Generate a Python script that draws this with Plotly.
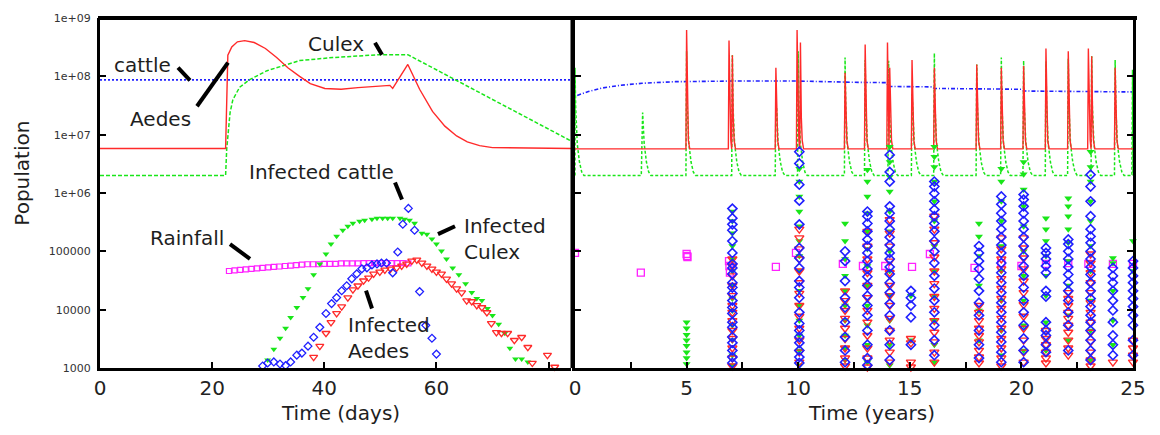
import plotly.graph_objects as go

# ---------------- LEFT PANEL DATA (time in days) ----------------
cattle_days = [0, 84]
cattle_pop = [8.7e7, 8.7e7]

aedes_days = [0, 22.4, 22.8, 23.5, 24.5, 25.8, 27.5, 29.5, 31.5, 33.5, 35.6, 37.5, 40.1, 43.0,
              46.0, 49.0, 51.7, 52.2, 54.9, 57.0, 59.3, 61.5, 63.6, 65.5, 67.7, 70.0, 84]
aedes_pop = [5.8e6, 5.8e6, 2.3e8, 3.2e8, 3.9e8, 4.1e8, 3.8e8, 3.0e8, 2.1e8, 1.4e8, 1.0e8, 7.5e7, 6.2e7, 6.0e7,
             6.4e7, 6.8e7, 7.0e7, 6.2e7, 1.6e8, 6.0e7, 2.5e7, 1.4e7, 9.5e6, 7.5e6, 6.5e6, 6.0e6, 5.8e6]

culex_days = [0, 22.4, 22.6, 23.2, 23.7, 24.9, 26.7, 29.8, 35.6, 41.5, 49.9, 54.9, 84]
culex_pop = [2.0e6, 2.0e6, 5.7e6, 2.4e7, 4.0e7, 6.5e7, 8.8e7, 1.25e8, 1.86e8, 2.1e8, 2.35e8, 2.35e8, 7.8e6]

rain_days = list(range(23, 56))
rain_val = [4.6e4, 4.7e4, 4.8e4, 4.9e4, 5.0e4, 5.1e4, 5.2e4, 5.3e4, 5.4e4, 5.5e4, 5.6e4, 5.7e4, 5.8e4,
            5.9e4, 6.0e4, 6.0e4, 6.0e4, 6.1e4, 6.1e4, 6.1e4, 6.2e4, 6.2e4, 6.2e4, 6.2e4, 6.3e4, 6.3e4,
            6.3e4, 6.3e4, 6.3e4, 6.3e4, 6.3e4, 6.3e4, 6.2e4]

inf_cattle_days = [29.0, 29.9, 31.0, 32.1, 33.1, 34.0, 35.1, 36.0, 37.1, 38.1, 39.2, 40.3, 41.3, 42.2,
                   43.1, 44.0, 44.9, 45.8, 46.7, 47.6, 48.5, 49.4, 50.2, 51.1, 52.2, 53.1, 54.0, 55.0,
                   56.1, 57.0, 58.1, 59.2, 60.0]
inf_cattle_pop = [1080, 1220, 1270, 1170, 1100, 1270, 1660, 1800, 2370, 3370, 4980, 8610, 12700, 16100,
                  21100, 25700, 33800, 41100, 50100, 52000, 58500, 60800, 63200, 63200, 42800, 97500,
                  291000, 545000, 230000, 20400, 5380, 3240, 1730]

inf_culex_days = [29.9, 31.0, 32.1, 33.1, 34.0, 35.1, 36.2, 37.1, 38.1, 39.2, 40.3, 41.2, 42.2, 43.3,
                  44.2, 45.1, 46.3, 47.2, 48.5, 49.4, 50.4, 51.3, 52.2, 53.5, 54.3, 55.2, 56.1, 57.4,
                  58.3, 59.2, 60.0, 60.9, 61.8, 62.9, 64.0, 65.2, 66.3, 67.2, 68.1, 69.1, 70.0, 71.1,
                  72.2, 73.1, 74.1, 75.2, 76.3]
inf_culex_pop = [1370, 2100, 3240, 4790, 7360, 10900, 16100, 22900, 39600, 60800, 90000, 133000,
                 182000, 230000, 269000, 303000, 327000, 340000, 354000, 368000, 368000, 368000,
                 368000, 368000, 354000, 340000, 303000, 205000, 197000, 162000, 133000, 101000,
                 74000, 52000, 39600, 27900, 19600, 15500, 14300, 10500, 7960, 5600, 3940, 2190,
                 1420, 1420, 1265]

inf_aedes_days = [37.1, 38.1, 39.2, 40.3, 41.2, 42.2, 43.1, 44.2, 45.1, 46.0, 47.0, 47.9, 48.8, 49.9,
                  50.8, 51.8, 52.9, 53.8, 54.7, 55.6, 56.5, 57.4, 58.3, 59.2, 60.0, 60.9, 61.8, 62.7,
                  63.6, 64.5, 65.4, 66.3, 67.2, 68.1, 69.0, 69.8, 70.7, 71.6, 72.7, 73.9, 75.2, 76.3,
                  77.1, 79.8, 81.1]
inf_aedes_pop = [1000, 1540, 2370, 3940, 6050, 8610, 11300, 16100, 22000, 25700, 31300, 35200, 41100,
                 44500, 48100, 50100, 52000, 56200, 60800, 68400, 71100, 63200, 56200, 50100, 44500,
                 41100, 33800, 27900, 22900, 19600, 14300, 13800, 11800, 10900, 8950, 5820, 4090,
                 3940, 3940, 2990, 3365, 2270, 1216, 1660, 1040]

# ---------------- RIGHT PANEL DATA (time in years) ----------------
cattle_years = [0.1, 0.6, 1.2, 2.0, 3.0, 4.5, 7.0, 10.0, 12.5, 13.95, 14.05, 16.0, 16.1, 19.0, 19.1,
                20.0, 20.1, 23.0, 25.0]
cattle_years_pop = [4.7e7, 5.5e7, 6.3e7, 7.0e7, 7.6e7, 8.1e7, 8.3e7, 8.3e7, 7.9e7, 7.8e7, 6.7e7, 6.6e7,
                    6.2e7, 6.1e7, 6.0e7, 6.0e7, 5.6e7, 5.5e7, 5.4e7]

aedes_base = 5.7e6
aedes_spike_years = [5.0, 6.9, 7.05, 9.0, 9.95, 10.1, 12.1, 13.0, 14.0, 14.1, 15.1, 16.1, 18.0, 19.1,
                     20.1, 21.1, 22.1, 23.0, 23.15, 24.2]
aedes_spike_peak = [6.2e8, 4.1e8, 2.3e8, 1.4e8, 6.2e8, 3.8e8, 1.15e8, 3.5e8, 3.8e8, 1.4e8, 1.9e8, 1.4e8,
                    1.6e8, 1.4e8, 1.5e8, 3.0e8, 2.7e8, 3.0e8, 2.2e8, 1.4e8]
aedes_tail_dt = [0.04, 0.08, 0.14]
aedes_tail_val = [2.0e7, 8.0e6, 5.7e6]

culex_base = 2.0e6
culex_spike_years = [0.0, 3.0, 5.0, 7.05, 9.0, 10.0, 12.1, 13.0, 14.05, 15.1, 16.1, 18.0, 19.1, 20.1,
                     21.1, 22.1, 23.15, 24.2, 24.98]
culex_spike_peak = [1.4e8, 2.4e7, 2.7e8, 2.3e8, 3.2e7, 2.7e8, 2.1e8, 1.9e8, 1.85e8, 5.0e7, 2.5e8, 1.6e8,
                    2.1e8, 1.85e8, 1.8e8, 2.0e8, 2.2e8, 1.9e8, 1.3e8]
culex_tail_dt = [0.03, 0.1, 0.2, 0.3, 0.4]
culex_tail_val = [3.0e7, 7.0e6, 3.4e6, 2.3e6, 2.0e6]

rain_years = [0.0, 2.95, 5.0, 5.02, 5.04, 6.9, 6.92, 6.94, 9.0, 9.9, 12.0, 12.9, 13.9, 15.1, 15.9, 17.9,
              19.1, 20.0, 21.1, 22.1, 23.0, 24.1, 25.0]
rain_years_val = [9.4e4, 4.3e4, 9.0e4, 8.3e4, 8.0e4, 6.8e4, 5.6e4, 4.3e4, 5.4e4, 9.4e4, 6.1e4, 5.6e4,
                  5.6e4, 5.4e4, 9.0e4, 5.2e4, 6.3e4, 5.6e4, 6.1e4, 6.3e4, 6.1e4, 6.1e4, 6.1e4]

col_years = [5.0, 7.05, 9.0, 10.05, 12.1, 13.1, 14.1, 15.05, 16.1, 18.1, 19.1, 20.1, 21.1, 22.1, 23.1,
             24.1, 25.0]
culex_cols = [
    [6.1e3, 4.8e3, 3.7e3, 3.0e3, 2.4e3, 1.87e3, 1.48e3, 1.17e3, 1.0e3],
    [4.8e5, 3.3e5, 2.05e5, 1.23e5, 7.4e4, 4.6e4, 2.6e4, 1.55e4, 9.7e3, 5.4e3, 3.0e3, 1.66e3, 1.12e3],
    [],
    [2.6e6, 1.57e6, 8.7e5, 4.8e5, 2.7e5, 1.5e5, 8.3e4, 4.6e4, 2.1e4, 1.18e4, 6.5e3, 3.6e3, 2.0e3, 1.12e3],
    [3.0e5, 1.5e5, 7.4e4, 3.8e4, 2.1e4, 1.18e4, 6.5e3, 3.6e3, 2.2e3, 1.37e3],
    [2.5e6, 1.57e6, 8.7e5, 4.5e5, 2.2e5, 1.1e5, 5.6e4, 2.6e4, 1.18e4, 5.4e3, 2.5e3, 1.26e3],
    [6.2e6, 3.4e6, 1.9e6, 1.06e6, 4.8e5, 2.2e5, 1.0e5, 4.6e4, 1.74e4, 6.5e3, 2.5e3, 1.12e3],
    [1.74e4, 3.0e3],
    [6.2e6, 4.2e6, 2.8e6, 1.57e6, 7.2e5, 3.3e5, 1.23e5, 4.6e4, 1.74e4, 6.5e3, 2.5e3, 1.26e3],
    [3.0e5, 1.8e5, 8.3e4, 2.6e4, 9.7e3, 3.0e3],
    [2.6e6, 1.57e6, 7.2e5, 3.3e5, 1.23e5, 4.6e4, 1.43e4, 4.4e3, 1.66e3],
    [3.4e6, 2.1e6, 1.15e6, 5.9e5, 2.7e5, 1.0e5, 3.8e4, 1.43e4, 5.4e3, 2.0e3],
    [3.7e5, 2.4e5, 1.5e5, 8.3e4, 3.8e4, 1.74e4, 6.1e3, 2.0e3],
    [8.1e5, 5.9e5, 4.0e5, 2.4e5, 1.4e5, 6.8e4, 2.6e4, 8.0e3, 3.0e3],
    [5.1e6, 2.8e6, 1.57e6, 7.2e5, 3.3e5, 1.23e5, 4.6e4, 1.43e4, 4.4e3, 1.37e3],
    [7.7e4, 6.3e4, 2.1e4, 6.5e3, 2.5e3],
    [1.5e5, 4.6e4],
]
aedes_cols = [
    [],
    [7.4e4, 5.6e4, 3.8e4, 2.6e4, 1.74e4, 1.18e4, 9.0e3, 6.5e3, 4.4e3, 3.2e3, 2.2e3, 1.48e3, 1.08e3],
    [],
    [2.4e5, 1.7e5, 1.1e5, 7.4e4, 4.6e4, 2.9e4, 1.9e4, 1.18e4, 7.7e3, 4.8e3, 3.0e3, 1.87e3, 1.26e3, 1.0e3],
    [2.1e4, 1.43e4, 9.7e3, 7.1e3, 4.8e3, 3.2e3, 2.2e3, 1.48e3, 1.08e3],
    [2.2e5, 1.23e5, 7.4e4, 4.3e4, 2.6e4, 1.6e4, 9.7e3, 6.1e3, 3.6e3, 2.2e3, 1.48e3, 1.04e3],
    [3.5e5, 2.05e5, 1.23e5, 6.8e4, 4.3e4, 2.6e4, 1.74e4, 1.18e4, 7.1e3, 4.4e3, 3.0e3, 1.87e3, 1.26e3, 1.0e3],
    [3.2e3, 2.7e3, 1.26e3, 1.04e3],
    [4.0e5, 2.4e5, 1.4e5, 8.0e4, 4.6e4, 2.8e4, 1.68e4, 1.05e4, 6.5e3, 4.1e3, 2.8e3, 1.87e3, 1.26e3, 1.0e3],
    [1.18e4, 9.0e3, 6.5e3, 4.8e3, 3.6e3, 2.8e3, 2.0e3, 1.54e3, 1.22e3, 1.0e3],
    [1.7e5, 1.1e5, 7.4e4, 5.0e4, 3.4e4, 2.3e4, 1.55e4, 1.05e4, 7.1e3, 4.8e3, 3.2e3, 2.2e3, 1.48e3, 1.08e3],
    [1.7e5, 1.14e5, 7.7e4, 5.0e4, 3.1e4, 1.96e4, 1.22e4, 7.7e3, 4.8e3, 3.0e3, 1.87e3, 1.26e3, 1.0e3],
    [4.4e3, 3.2e3, 2.5e3, 1.87e3, 1.48e3, 1.22e3, 1.0e3],
    [1.96e4, 1.55e4, 1.18e4, 9.0e3, 7.1e3, 5.4e3, 4.1e3, 3.0e3, 2.2e3, 1.66e3],
    [9.0e4, 6.3e4, 4.3e4, 2.9e4, 1.96e4, 1.32e4, 9.0e3, 6.1e3, 4.1e3, 2.8e3, 1.87e3, 1.37e3, 1.08e3],
    [1.26e3, 1.0e3],
    [3.0e3, 2.2e3, 1.66e3, 1.26e3, 1.0e3],
]
cattle_cols = [
    [],
    [5.4e5, 3.7e5, 2.9e5, 2.3e5, 1.5e5, 9.4e4, 6.1e4, 5.2e4, 4.1e4, 2.9e4, 2.4e4, 1.9e4, 1.43e4, 1.09e4,
     8.6e3, 6.1e3, 5.0e3, 3.4e3, 2.7e3, 2.0e3, 1.54e3, 1.22e3],
    [1.0e3],
    [5.1e6, 3.2e6, 1.39e6, 7.4e5, 2.9e5, 1.14e5, 7.7e4, 5.2e4, 3.1e4, 2.4e4, 1.6e4, 9.0e3, 5.8e3, 4.4e3,
     3.4e3, 2.7e3, 2.0e3, 1.54e3, 1.22e3],
    [1.0e5, 6.8e4, 3.1e4, 1.6e4, 1.09e4, 6.1e3, 3.4e3, 2.0e3, 1.26e3],
    [4.8e5, 4.0e5, 3.0e5, 2.2e5, 1.6e5, 1.23e5, 9.4e4, 6.8e4, 5.0e4, 3.66e4, 2.6e4, 1.74e4, 1.18e4, 8.0e3,
     4.4e3, 2.5e3, 1.48e3, 1.12e3, 1.0e3],
    [4.5e6, 2.3e6, 1.57e6, 5.9e5, 4.5e5, 3.3e5, 2.4e5, 1.75e5, 1.28e5, 9.4e4, 7.4e4, 5.4e4, 4.1e4, 2.9e4,
     1.96e4, 1.27e4, 8.0e3, 4.4e3, 2.5e3, 1.37e3],
    [2.1e4, 1.6e4, 1.18e4, 7.4e3, 2.5e3],
    [1.57e6, 1.29e6, 9.8e5, 7.2e5, 5.2e5, 4.0e5, 3.0e5, 2.2e5, 1.5e5, 1.0e5, 6.3e4, 3.8e4, 2.3e4, 1.43e4,
     9.0e3, 5.4e3, 3.0e3, 1.66e3],
    [1.23e5, 9.4e4, 6.8e4, 5.0e4, 3.4e4, 2.1e4, 1.32e4, 8.0e3, 4.4e3, 2.5e3, 1.48e3],
    [8.7e5, 6.4e5, 4.5e5, 3.3e5, 2.4e5, 1.75e5, 1.28e5, 9.4e4, 6.3e4, 4.3e4, 2.9e4, 1.96e4, 1.32e4, 9.0e3,
     6.1e3, 4.1e3, 2.8e3, 1.87e3, 1.26e3],
    [9.4e5, 7.7e5, 5.9e5, 4.5e5, 3.3e5, 2.4e5, 1.75e5, 1.23e5, 8.3e4, 5.6e4, 3.8e4, 2.4e4, 1.43e4, 9.0e3,
     5.4e3, 3.2e3, 2.0e3, 1.26e3],
    [1.14e5, 9.4e4, 7.4e4, 5.6e4, 4.3e4, 2.1e4, 1.68e4, 6.1e3, 4.4e3, 3.6e3, 2.5e3, 1.87e3],
    [1.6e5, 1.33e5, 1.0e5, 7.4e4, 5.4e4, 4.0e4, 2.9e4, 2.1e4, 1.43e4, 9.0e3, 5.4e3, 2.0e3],
    [2.06e6, 1.29e6, 7.2e5, 4.0e5, 2.4e5, 1.8e5, 1.4e5, 1.0e5, 7.4e4, 5.4e4, 4.0e4, 2.9e4, 2.1e4, 1.55e4,
     1.13e4, 8.0e3, 6.1e3, 4.4e3, 3.0e3, 2.0e3, 1.37e3],
    [5.2e4, 3.8e4, 2.9e4, 2.1e4, 1.43e4, 9.7e3, 6.1e3, 3.6e3, 2.5e3, 1.66e3],
    [6.8e4, 5.2e4, 3.8e4, 2.9e4, 2.1e4, 1.55e4, 1.13e4, 8.0e3, 5.4e3, 3.0e3, 1.66e3],
]

ytick_vals = [1e3, 1e4, 1e5, 1e6, 1e7, 1e8, 1e9]
ytick_text = ["1000", "10000", "100000", "1e+06", "1e+07", "1e+08", "1e+09"]
yminor_vals = [m * 10 ** k for k in range(3, 9) for m in range(2, 10)]
xdays_ticks = [0, 20, 40, 60, 80]
xdays_text = ["0", "20", "40", "60", ""]
xyears_ticks = [0, 2.5, 5, 7.5, 10, 12.5, 15, 17.5, 20, 22.5, 25]
xyears_text = ["0", "", "5", "", "10", "", "15", "", "20", "", "25"]

# ---------------- helpers ----------------
RED = "#ff2a2a"
GREEN = "#19e619"
BLUE = "#2020ff"
MAGENTA = "#ff22ff"
TXT = "#1e1e1e"


def spike_series(times, peaks, base, tail_dt, tail_val, t_end):
    xs, ys = [0.0], [base]
    for i, (t, p) in enumerate(zip(times, peaks)):
        nxt = times[i + 1] - 0.03 if i + 1 < len(times) else t_end
        if t - 0.03 > xs[-1]:
            xs.append(t - 0.03)
            ys.append(base)
        xs.append(t)
        ys.append(p)
        for dt, v in zip(tail_dt, tail_val):
            if t + dt < nxt:
                xs.append(t + dt)
                ys.append(min(v, p))
    xs.append(t_end)
    ys.append(base)
    return xs, ys


def flatten(cols):
    xs, ys = [], []
    for t, vals in zip(col_years, cols):
        xs += [t] * len(vals)
        ys += vals
    return xs, ys


fig = go.Figure()

# left panel lines
fig.add_trace(go.Scatter(x=cattle_days, y=cattle_pop, mode="lines",
                         line=dict(color=BLUE, width=1.6, dash="2px,2px"), xaxis="x", yaxis="y"))
fig.add_trace(go.Scatter(x=culex_days, y=culex_pop, mode="lines",
                         line=dict(color=GREEN, width=1.5, dash="4px,2px"), xaxis="x", yaxis="y"))
fig.add_trace(go.Scatter(x=aedes_days, y=aedes_pop, mode="lines",
                         line=dict(color=RED, width=1.4), xaxis="x", yaxis="y"))
# left panel markers
fig.add_trace(go.Scatter(x=rain_days, y=rain_val, mode="markers", cliponaxis=False,
                         marker=dict(symbol="square-open", size=5, color=MAGENTA, line=dict(width=1.2)),
                         xaxis="x", yaxis="y"))
fig.add_trace(go.Scatter(x=inf_culex_days, y=inf_culex_pop, mode="markers", cliponaxis=False,
                         marker=dict(symbol="triangle-down", size=6, color=GREEN, line=dict(width=0)),
                         xaxis="x", yaxis="y"))
fig.add_trace(go.Scatter(x=inf_aedes_days, y=inf_aedes_pop, mode="markers", cliponaxis=False,
                         marker=dict(symbol="triangle-down-open", size=7, color=RED, line=dict(width=1.3)),
                         xaxis="x", yaxis="y"))
fig.add_trace(go.Scatter(x=inf_cattle_days, y=inf_cattle_pop, mode="markers", cliponaxis=False,
                         marker=dict(symbol="diamond-open", size=6, color=BLUE, line=dict(width=1.3)),
                         xaxis="x", yaxis="y"))

# right panel lines
ax, ay = spike_series(aedes_spike_years, aedes_spike_peak, aedes_base, aedes_tail_dt, aedes_tail_val, 25)
cx, cy = spike_series(culex_spike_years, culex_spike_peak, culex_base, culex_tail_dt, culex_tail_val, 25)
fig.add_trace(go.Scatter(x=cattle_years, y=cattle_years_pop, mode="lines",
                         line=dict(color=BLUE, width=1.6, dash="4px,2px,1px,2px"), xaxis="x2", yaxis="y2"))
fig.add_trace(go.Scatter(x=cx, y=cy, mode="lines",
                         line=dict(color=GREEN, width=1.5, dash="3px,2px"), xaxis="x2", yaxis="y2"))
fig.add_trace(go.Scatter(x=ax, y=ay, mode="lines",
                         line=dict(color=RED, width=1.4), xaxis="x2", yaxis="y2"))

# right panel markers
gx, gy = flatten(culex_cols)
rx, ry = flatten(aedes_cols)
bx, by = flatten(cattle_cols)
fig.add_trace(go.Scatter(x=rain_years, y=rain_years_val, mode="markers", cliponaxis=False,
                         marker=dict(symbol="square-open", size=7, color=MAGENTA, line=dict(width=1.3)),
                         xaxis="x2", yaxis="y2"))
fig.add_trace(go.Scatter(x=gx, y=gy, mode="markers", cliponaxis=False,
                         marker=dict(symbol="triangle-down", size=7, color=GREEN, line=dict(width=0)),
                         xaxis="x2", yaxis="y2"))
fig.add_trace(go.Scatter(x=rx, y=ry, mode="markers", cliponaxis=False,
                         marker=dict(symbol="triangle-down-open", size=8, color=RED, line=dict(width=1.4)),
                         xaxis="x2", yaxis="y2"))
fig.add_trace(go.Scatter(x=bx, y=by, mode="markers", cliponaxis=False,
                         marker=dict(symbol="diamond-open", size=7, color=BLUE, line=dict(width=1.6)),
                         xaxis="x2", yaxis="y2"))

# ---------------- layout ----------------
L, R, T, B = 100, 27, 15, 67
W, H = 1160, 435
PW, PH = W - L - R, H - T - B


def px(X):
    return (X - L) / PW


def py(Y):
    return (H - B - Y) / PH


xcommon = dict(showgrid=False, zeroline=False, showline=True, linecolor="black", linewidth=3,
               ticks="inside", ticklen=6, tickwidth=2, tickcolor="black",
               tickfont=dict(size=20, color="#222222", family="DejaVu Sans"))
ycommon = dict(type="log", range=[3, 9], showgrid=False, zeroline=False, showline=True,
               linecolor="black", linewidth=3, ticks="inside", ticklen=6, tickwidth=1.5,
               tickcolor="black", tickvals=ytick_vals, ticktext=ytick_text)
# overlay axes that only carry the short minor ticks of the log scale
yminor = dict(type="log", range=[3, 9], showgrid=False, zeroline=False, showline=False,
              ticks="inside", ticklen=3, tickwidth=1, tickcolor="black",
              tickvals=yminor_vals, showticklabels=False)

fig.update_layout(
    width=W, height=H,
    margin=dict(l=L, r=R, t=T, b=B),
    paper_bgcolor="white", plot_bgcolor="white",
    showlegend=False,
    font=dict(family="DejaVu Sans", color=TXT),
    xaxis=dict(domain=[0, px(571)], range=[0, 84], anchor="y",
               tickvals=xdays_ticks, ticktext=xdays_text, **xcommon),
    xaxis2=dict(domain=[px(575), 1], range=[0, 25], anchor="y2",
                tickvals=xyears_ticks, ticktext=xyears_text, **xcommon),
    yaxis=dict(anchor="x", tickfont=dict(size=11, color="#333333"), ticklabelstandoff=4, **ycommon),
    yaxis2=dict(anchor="x2", matches="y", showticklabels=False, mirror="ticks", **ycommon),
    yaxis3=dict(anchor="x", overlaying="y", **yminor),
    yaxis4=dict(anchor="x2", overlaying="y2", mirror="ticks", **yminor),
)

shapes = [
    dict(type="line", xref="paper", yref="paper", x0=px(98), x1=px(1137), y0=py(15), y1=py(15),
         line=dict(color="black", width=4)),
    dict(type="line", xref="paper", yref="paper", x0=px(571.5), x1=px(571.5), y0=py(15), y1=py(368),
         line=dict(color="black", width=2)),
]
callouts = [((178, 65), (190, 78)), ((197, 104), (228, 60)), ((375, 40), (382, 52)),
            ((395, 181), (402, 198)), ((230, 243), (250, 258)), ((438, 233), (455, 225)),
            ((366, 290), (372, 308))]
for (x0, y0), (x1, y1) in callouts:
    shapes.append(dict(type="line", xref="paper", yref="paper", x0=px(x0), y0=py(y0), x1=px(x1), y1=py(y1),
                       line=dict(color="black", width=4)))
fig.update_layout(shapes=shapes)

ann_font = dict(size=20, color=TXT, family="DejaVu Sans")
labels = [
    ("cattle", 142, 62, "center"),
    ("Aedes", 160, 117, "center"),
    ("Culex", 336, 41, "center"),
    ("Infected cattle", 321, 170, "center"),
    ("Rainfall", 187, 237, "center"),
    ("Infected<br>Culex", 462, 238, "left"),
    ("Infected<br>Aedes", 346, 338, "left"),
]
anns = []
for text, X, Y, anchor in labels:
    anns.append(dict(text=text, xref="paper", yref="paper", x=px(X), y=py(Y), xanchor=anchor,
                     yanchor="middle", align="left", showarrow=False, font=ann_font))
anns.append(dict(text="Time (days)", xref="paper", yref="paper", x=px(340), y=py(413),
                 xanchor="center", yanchor="middle", showarrow=False, font=ann_font))
anns.append(dict(text="Time (years)", xref="paper", yref="paper", x=px(871), y=py(413),
                 xanchor="center", yanchor="middle", showarrow=False, font=ann_font))
anns.append(dict(text="Population", xref="paper", yref="paper", x=px(22), y=py(172), textangle=-90,
                 xanchor="center", yanchor="middle", showarrow=False, font=ann_font))
fig.update_layout(annotations=anns)

fig.write_html("out.html")
